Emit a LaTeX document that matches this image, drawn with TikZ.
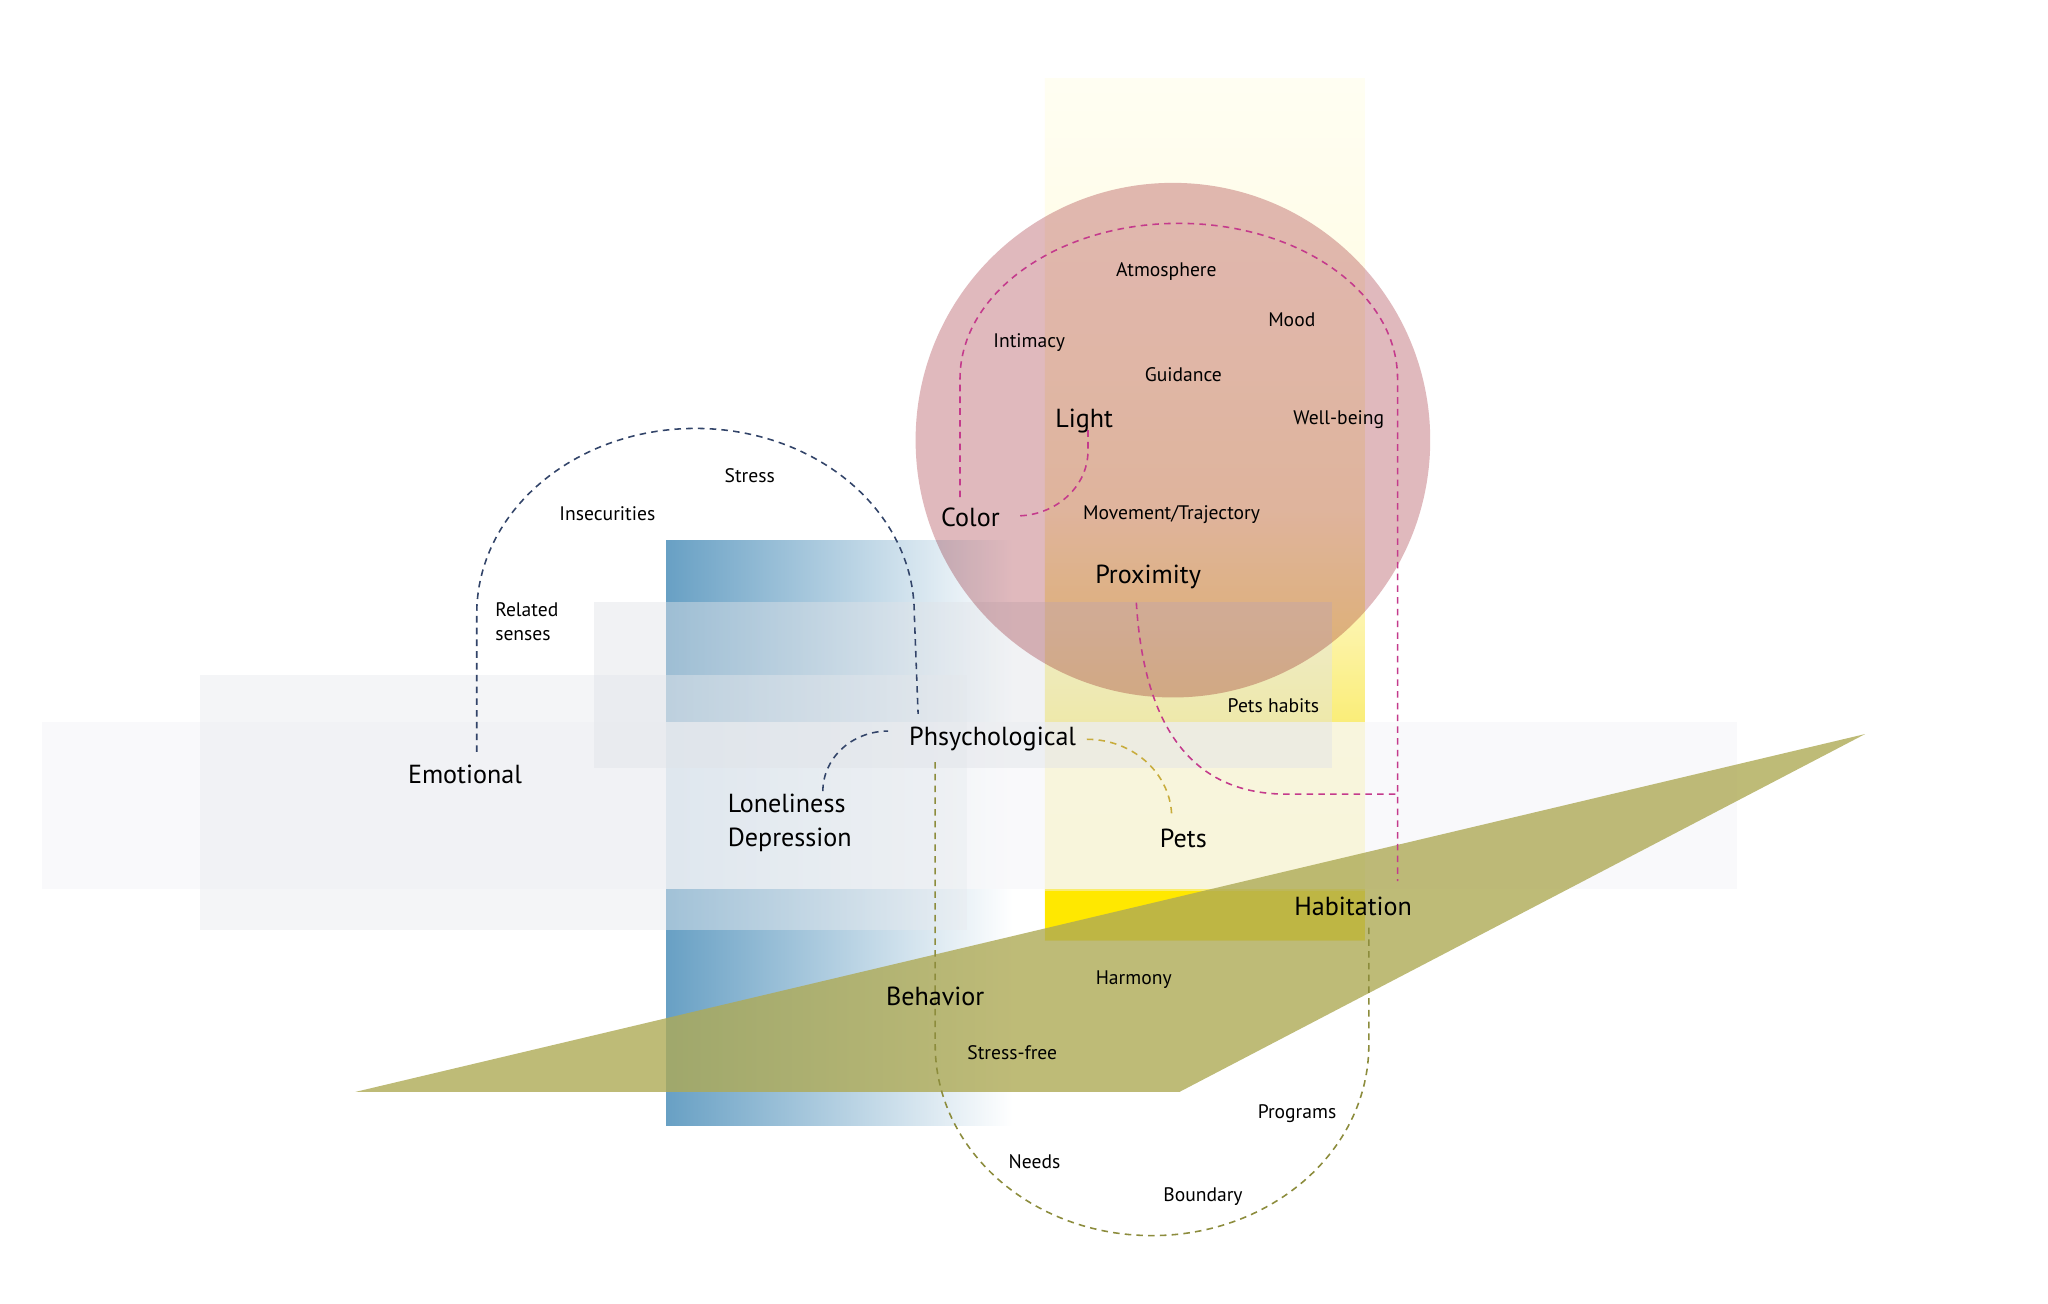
\documentclass[tikz,border=0pt]{standalone}
\usepackage{fontspec}
\setmainfont{PT Sans}
\usetikzlibrary{calc}
\pgfdeclarelayer{shapes}
\pgfdeclarelayer{conn}
\pgfsetlayers{shapes,conn,main}
\definecolor{blueL}{RGB}{104,160,196}
\definecolor{blueM}{RGB}{172,204,223}
\definecolor{yelBright}{RGB}{255,232,0}
\definecolor{bandA}{RGB}{248,248,250}
\definecolor{bandB}{RGB}{232,235,239}
\definecolor{bandC}{RGB}{224,227,232}
\definecolor{circ}{RGB}{224,185,189}
\definecolor{tri}{RGB}{174,170,86}
\definecolor{navyD}{RGB}{50,68,105}
\definecolor{pinkD}{RGB}{196,58,140}
\definecolor{goldD}{RGB}{200,172,60}
\definecolor{oliveD}{RGB}{140,140,60}
% vertical shading: 25bp = bottom edge (y=720), 75bp = top edge (y=60)
\pgfdeclareverticalshading{yelcol}{100bp}{
  rgb(0bp)=(0.98,0.925,0.41);
  rgb(25bp)=(0.98,0.925,0.41);
  rgb(37.6bp)=(0.98,0.93,0.47);
  rgb(43bp)=(0.99,0.955,0.66);
  rgb(50bp)=(0.996,0.976,0.83);
  rgb(64bp)=(1,0.99,0.91);
  rgb(75bp)=(1,0.996,0.95);
  rgb(100bp)=(1,0.996,0.95)}
\tikzset{
  big/.style={font=\fontsize{20}{26}\selectfont, inner sep=0pt, text=black},
  small/.style={font=\fontsize{15}{19}\selectfont, inner sep=0pt, text=black},
  dashline/.style={line width=1.2pt, dash pattern=on 5pt off 4pt},
  navyline/.style={dashline, draw=navyD},
  pinkline/.style={dashline, draw=pinkD},
  goldline/.style={dashline, draw=goldD},
  oliveline/.style={dashline, draw=oliveD}
}
\begin{document}
\begin{tikzpicture}[x=1pt,y=-1pt]
\begin{pgfonlayer}{shapes}
\useasboundingbox[fill=white] (0,0) rectangle (1568,998);
% blue gradient block
\shade[left color=blueL, middle color=blueM, right color=white] (510,414) rectangle (775,862);
% yellow column
\shade[shading=yelcol] (800,60) rectangle (1045,720);
\fill[yelBright] (800,682) rectangle (1045,720);
% grey bands
\fill[bandA, opacity=0.78] (32,553) rectangle (1330,681);
\fill[bandB, opacity=0.45] (153,517) rectangle (740,712);
\fill[bandC, opacity=0.45] (455,461) rectangle (1020,588);
% circle
\begin{scope}[blend mode=multiply]
\fill[circ] (898,337) circle[radius=197];
\end{scope}
% triangle
\fill[tri, opacity=0.8] (272,836) -- (1428,562) -- (903,836) -- cycle;
\end{pgfonlayer}

% labels
\node[small] (atm) at (893,208) {Atmosphere};
\node[small] (mood) at (989,245) {Mood};
\node[small] (inti) at (788,262) {Intimacy};
\node[small] (guid) at (906,287) {Guidance};
\node[big] (light) at (830,322) {Light};
\node[small] (well) at (1025,321) {Well-being};
\node[big] (color) at (743,396) {Color};
\node[small] (move) at (897,394) {Movement/Trajectory};
\node[big] (prox) at (879,442) {Proximity};
\node[small] (pethab) at (975,540) {Pets habits};
\node[small] (stress) at (574,364) {Stress};
\node[small] (insec) at (465,393) {Insecurities};
\node[small, align=left, anchor=west] (rel) at (379,476) {Related\\senses};
\node[big] (emo) at (356,593) {Emotional};
\node[big] (phs) at (760,566) {Phsychological};
\node[big, align=left, anchor=west] (lone) at (557,630) {Loneliness\\Depression};
\node[big] (pets) at (906,642) {Pets};
\node[big] (hab) at (1036,694) {Habitation};
\node[big] (beh) at (716,763) {Behavior};
\node[small] (harm) at (868,750) {Harmony};
\node[small] (sfree) at (775,806) {Stress-free};
\node[small] (prog) at (993,853) {Programs};
\node[small] (needs) at (792,889) {Needs};
\node[small] (bound) at (921,916) {Boundary};

% connectors
\begin{pgfonlayer}{conn}
\draw[navyline] ($(emo.north)+(9,-10)$) -- (365,470)
  arc[start angle=180, end angle=360, x radius=167.5, y radius=142] -- ($(phs.north west)+(7,-10)$);
\draw[navyline] ($(lone.north west)+(73,-2)$) arc[start angle=180, end angle=270, x radius=50, y radius=46];
\draw[pinkline] ($(color.north)+(-8,-8)$) -- (735,290)
  arc[start angle=180, end angle=360, x radius=167.5, y radius=119] -- ($(hab.north)+(34,-12)$);
\draw[pinkline] ($(light.south)+(3,-2)$) -- (833,345) arc[start angle=0, end angle=90, x radius=55, y radius=50];
\draw[pinkline] ($(prox.south)+(-9,10)$) .. controls (876,560) and (915,608) .. (985,608) -- (1070,608);
\draw[goldline] ($(phs.east)+(8,0)$) arc[start angle=270, end angle=360, x radius=65, y radius=60];
\draw[oliveline] ($(phs.south)+(-44,8)$) -- (716,800)
  arc[start angle=180, end angle=0, x radius=166, y radius=146] -- ($(hab.south)+(12,6)$);
\end{pgfonlayer}
\end{tikzpicture}
\end{document}
